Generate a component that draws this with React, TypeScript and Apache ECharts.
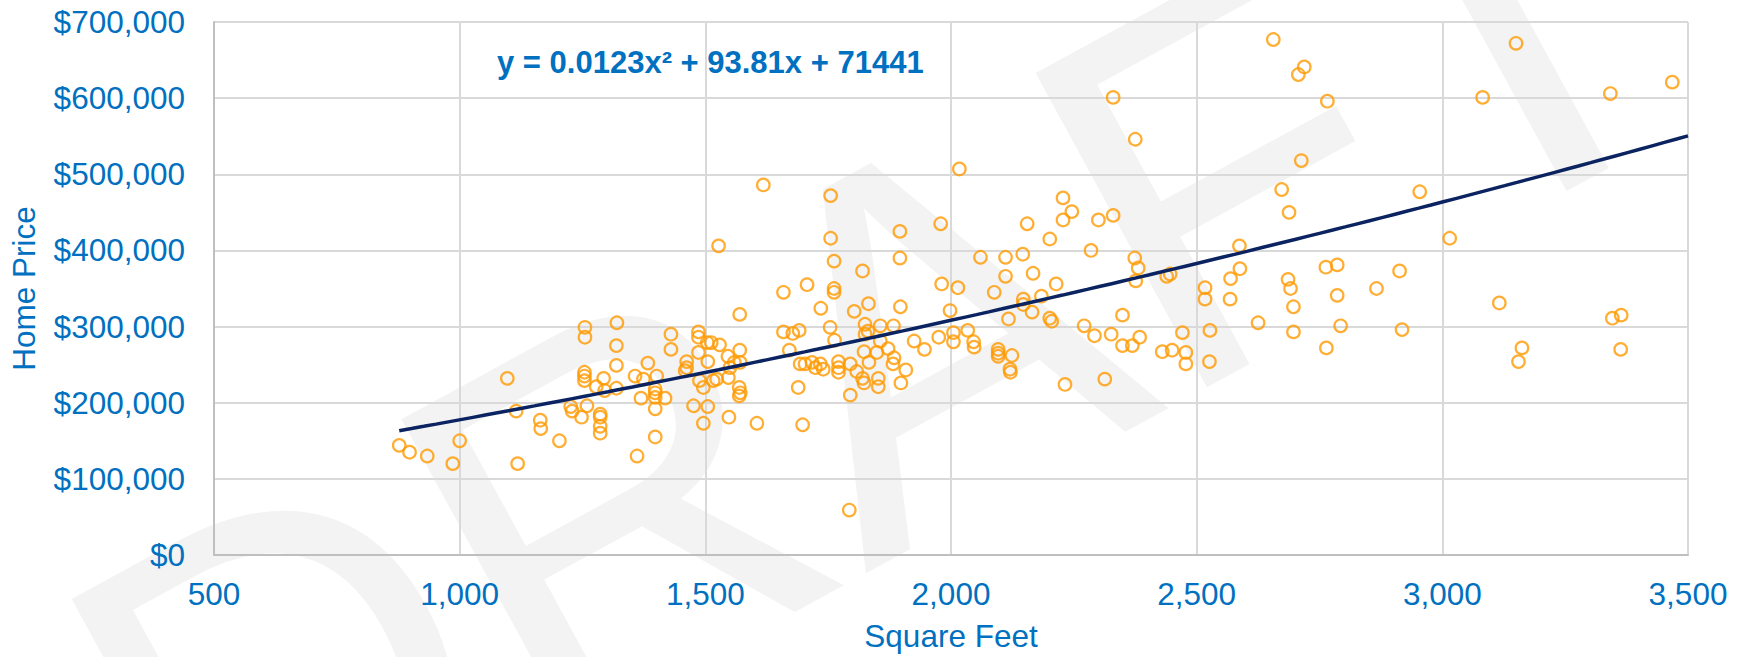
import React, { useEffect, useRef } from "react";
import * as echarts from "echarts";

// Square feet of each home (x) and its price in dollars (y)
const sqft = [
  877, 898, 934, 986, 1000, 1097, 1115, 1118, 1164, 1165, 1203, 1226, 1229, 1248, 1254, 1254, 1254, 1255, 1255, 1259,
  1278, 1286, 1286, 1286, 1286, 1293, 1295, 1319, 1319, 1319, 1320, 1357, 1361, 1369, 1374, 1383, 1398, 1398, 1398, 1398,
  1398, 1401, 1418, 1430, 1430, 1618, 1755, 1527, 1755, 1762, 1820, 1896, 1896, 1979, 2017, 1659, 1707, 1762, 1762, 1570,
  1735, 1803, 1832, 1897, 1981, 2014, 1998, 1486, 1486, 1504, 1512, 1529, 1570, 1486, 1462, 1462, 1505, 1546, 1559, 1571,
  1459, 1488, 1496, 1516, 1523, 1547, 1550, 1569, 1571, 1569, 1476, 1505, 1496, 1548, 1605, 1689, 1698, 1795, 1671, 1659,
  1678, 1691, 1754, 1763, 1693, 1703, 1717, 1724, 1734, 1740, 1771, 1771, 1771, 1795, 1808, 1823, 1825, 1825, 1831, 1833,
  1849, 1856, 1856, 1872, 1883, 1884, 1882, 1908, 1820, 1823, 1852, 1852, 1898, 1925, 1946, 1975, 2005, 2005, 1793, 2228,
  2246, 2228, 2300, 2330, 2155, 2201, 2285, 2060, 2111, 2146, 2374, 2381, 2376, 2111, 2167, 2439, 2446, 2088, 2214, 2147,
  2147, 2184, 2165, 2117, 2201, 2205, 2349, 2034, 2046, 2047, 2096, 2096, 2096, 2124, 2120, 2121, 2232, 2271, 2292, 2326,
  2349, 2369, 2384, 2313, 2430, 2450, 2471, 2478, 2478, 2517, 2517, 2527, 2526, 2569, 2568, 2587, 2588, 2330, 2375, 2656,
  2719, 2707, 2766, 2713, 2673, 2688, 2954, 3015, 3082, 3150, 2625, 2686, 2691, 2697, 2697, 2763, 2786, 2786, 2793, 2764,
  2866, 2913, 2918, 3116, 3162, 3155, 3342, 3468, 3346, 3364, 3363,
];

const price = [
  144000, 135000, 130000, 120000, 150000, 232000, 189000, 120000, 177000, 166000, 150000, 195000, 189000, 181000, 240000, 235000, 229000, 286000, 299000, 196000,
  221000, 185000, 181000, 169000, 160000, 232000, 216000, 275000, 249000, 219000, 305000, 235000, 130000, 206000, 231000, 252000, 213000, 218000, 207000, 192000,
  155000, 235000, 206000, 290000, 270000, 486000, 472000, 406000, 416000, 386000, 373000, 425000, 390000, 435000, 507000, 345000, 355000, 350000, 345000, 316000,
  324000, 320000, 330000, 326000, 356000, 351000, 321000, 293000, 286000, 279000, 279000, 276000, 269000, 266000, 254000, 246000, 254000, 261000, 253000, 253000,
  242000, 229000, 220000, 229000, 231000, 233000, 246000, 220000, 213000, 209000, 196000, 195000, 173000, 181000, 173000, 220000, 171000, 210000, 269000, 293000,
  291000, 295000, 299000, 282000, 251000, 251000, 253000, 246000, 251000, 244000, 254000, 246000, 240000, 251000, 241000, 267000, 303000, 290000, 294000, 253000,
  266000, 301000, 281000, 271000, 301000, 259000, 251000, 243000, 232000, 226000, 232000, 221000, 226000, 281000, 270000, 286000, 292000, 280000, 59000, 469000,
  451000, 440000, 440000, 446000, 435000, 415000, 400000, 391000, 391000, 395000, 390000, 377000, 360000, 366000, 370000, 366000, 369000, 345000, 356000, 336000,
  329000, 340000, 319000, 310000, 311000, 307000, 315000, 295000, 280000, 273000, 270000, 265000, 261000, 262000, 244000, 240000, 224000, 301000, 288000, 290000,
  275000, 275000, 286000, 231000, 267000, 269000, 292000, 266000, 251000, 351000, 336000, 295000, 254000, 363000, 336000, 406000, 376000, 601000, 546000, 677000,
  641000, 631000, 596000, 518000, 480000, 450000, 477000, 416000, 601000, 672000, 305000, 362000, 350000, 326000, 293000, 378000, 381000, 341000, 301000, 272000,
  350000, 373000, 296000, 331000, 272000, 254000, 606000, 621000, 311000, 315000, 270000,
];

// Axis ticks
const xTicks = [500, 1000, 1500, 2000, 2500, 3000, 3500];
const yTicks = [0, 100000, 200000, 300000, 400000, 500000, 600000, 700000];

// Polynomial trendline coefficients as printed on the chart
const TREND_A = 0.0123;
const TREND_B = 93.81;
const TREND_C = 71441;
const trendLabel = "y = 0.0123x² + 93.81x + 71441";

const axisTitleX = "Square Feet";
const axisTitleY = "Home Price";
const watermark = "DRAFT";

const BLUE = "#0070C0";
const FONT = "'Liberation Sans', Arial, sans-serif";
const FS = 31.5;

export default function App() {
  const ref = useRef<HTMLDivElement>(null);

  useEffect(() => {
    document.body.style.margin = "0";
    if (!ref.current) return;
    const chart = echarts.init(ref.current, undefined, { renderer: "svg" });

    const points = sqft.map((s, i) => [s, price[i]]);
    const xStart = Math.min(...sqft);
    const xEnd = xTicks[xTicks.length - 1];
    const trend: number[][] = [];
    for (let x = xStart; x <= xEnd; x += 25) {
      trend.push([x, TREND_A * x * x + TREND_B * x + TREND_C]);
    }
    if (trend[trend.length - 1][0] !== xEnd) {
      trend.push([xEnd, TREND_A * xEnd * xEnd + TREND_B * xEnd + TREND_C]);
    }

    const fmtNum = (v: number) => v.toLocaleString("en-US");

    chart.setOption({
      animation: false,
      backgroundColor: "#ffffff",
      textStyle: { fontFamily: FONT },
      grid: { left: 213, right: 57, top: 22, bottom: 101, containLabel: false },
      xAxis: {
        type: "value",
        min: xTicks[0],
        max: xTicks[xTicks.length - 1],
        interval: 500,
        name: axisTitleX,
        nameLocation: "middle",
        nameGap: 65,
        nameTextStyle: { color: BLUE, fontSize: FS, fontFamily: FONT },
        axisLine: { show: true, lineStyle: { color: "#BFBFBF", width: 2 } },
        axisTick: { show: false },
        axisLabel: { color: BLUE, fontSize: FS, fontFamily: FONT, margin: 23, formatter: (v: number) => fmtNum(v) },
        splitLine: { show: true, lineStyle: { color: "#D9D9D9", width: 2 } },
      },
      yAxis: {
        type: "value",
        min: yTicks[0],
        max: yTicks[yTicks.length - 1],
        interval: 100000,
        name: axisTitleY,
        nameLocation: "middle",
        nameGap: 174,
        nameRotate: 90,
        nameTextStyle: { color: BLUE, fontSize: FS, fontFamily: FONT },
        axisLine: { show: true, lineStyle: { color: "#BFBFBF", width: 2 } },
        axisTick: { show: false },
        axisLabel: { color: BLUE, fontSize: FS, fontFamily: FONT, margin: 29, formatter: (v: number) => "$" + fmtNum(v) },
        splitLine: { show: true, lineStyle: { color: "#D9D9D9", width: 2 } },
      },
      graphic: [
        {
          type: "text",
          z: -10,
          silent: true,
          x: 880,
          y: 360,
          rotation: 0.5,
          style: {
            text: watermark,
            fill: "#F3F3F3",
            font: "520px 'Liberation Sans', Arial, sans-serif",
            align: "center",
            verticalAlign: "middle",
          },
        },
        {
          type: "text",
          z: 100,
          left: 497,
          top: 47,
          style: {
            text: trendLabel,
            fill: BLUE,
            font: "bold 31px 'Liberation Sans', Arial, sans-serif",
          },
        },
      ],
      series: [
        {
          type: "scatter",
          data: points,
          symbol: "circle",
          symbolSize: 12.5,
          itemStyle: { color: "rgba(0,0,0,0)", borderColor: "#FF9A00", borderWidth: 2.2 },
          z: 2,
        },
        {
          type: "line",
          data: trend,
          showSymbol: false,
          symbol: "none",
          lineStyle: { color: "#0B2461", width: 3.5 },
          z: 3,
        },
      ],
    });

    return () => chart.dispose();
  }, []);

  return <div ref={ref} style={{ width: 1745, height: 657 }} />;
}
